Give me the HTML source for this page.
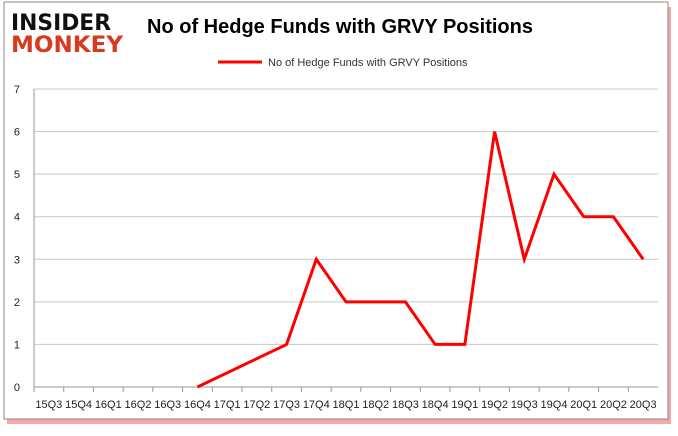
<!DOCTYPE html>
<html><head><meta charset="utf-8"><style>
body{margin:0;width:678px;height:431px;background:#fff;overflow:hidden;font-family:"Liberation Sans",sans-serif}
</style></head><body>
<svg width="678" height="431" xmlns="http://www.w3.org/2000/svg">
<rect x="7" y="7" width="664" height="417" fill="#e00" opacity="0.35"/>
<rect x="4" y="2" width="664" height="417" fill="#fff" stroke="#888" stroke-width="1"/>
<g font-family="'DejaVu Sans',sans-serif" font-weight="bold">
<text x="11" y="30" font-size="22" fill="#111" textLength="100" lengthAdjust="spacingAndGlyphs">INSIDER</text>
<text x="11" y="52" font-size="22" fill="#d63a1f" textLength="112" lengthAdjust="spacingAndGlyphs">MONKEY</text>
</g>
<text x="340" y="33" font-size="20" font-weight="bold" text-anchor="middle" fill="#000">No of Hedge Funds with GRVY Positions</text>
<line x1="218" y1="62" x2="262" y2="62" stroke="red" stroke-width="3"/>
<text x="268" y="66" font-size="11" fill="#333">No of Hedge Funds with GRVY Positions</text>
<g id="grid"></g><g id="axes"></g><g id="series"></g>
</svg>
<script>
const categories=["15Q3","15Q4","16Q1","16Q2","16Q3","16Q4","17Q1","17Q2","17Q3","17Q4","18Q1","18Q2","18Q3","18Q4","19Q1","19Q2","19Q3","19Q4","20Q1","20Q2","20Q3"];
const values=[null,null,null,null,null,0,null,null,1,3,2,2,2,1,1,6,3,5,4,4,3];
const yTicks=[0,1,2,3,4,5,6,7];
const NS="http://www.w3.org/2000/svg";
const L=34,R=658,T=89,B=387,yMax=7;
const cw=(R-L)/categories.length;
const xs=i=>L+(i+0.5)*cw;
const ys=v=>B-(v/yMax)*(B-T);
function mk(tag,attrs,parent){const e=document.createElementNS(NS,tag);for(const k in attrs)e.setAttribute(k,attrs[k]);document.getElementById(parent).appendChild(e);return e;}
yTicks.forEach(t=>{
 const g=mk('line',{x1:L,x2:R,y1:ys(t),y2:ys(t),stroke:t===0?'#999':'#c8c8c8','stroke-width':1},'grid');
 
 
 const lb=mk('text',{x:L-14,y:ys(t)+4,'font-size':11,'text-anchor':'end',fill:'#222'},'axes');
 lb.textContent=t;
 
 
});
const ya=mk('line',{x1:L,x2:L,y1:T,y2:B,stroke:'#999'},'axes');


categories.forEach((c,i)=>{
 const tk=mk('line',{x1:L+i*cw,x2:L+i*cw,y1:B,y2:B+5,stroke:'#999'},'axes');
 
 
 const lb=mk('text',{x:xs(i),y:B+21,'font-size':11,'text-anchor':'middle',fill:'#222'},'axes');
 lb.textContent=c;
 
 
});
const pts=[];values.forEach((v,i)=>{if(v!==null)pts.push(xs(i)+','+ys(v));});
const pl=mk('polyline',{points:pts.join(' '),fill:'none',stroke:'red','stroke-width':3,'stroke-linejoin':'miter'},'series');


</script>
</body></html>
